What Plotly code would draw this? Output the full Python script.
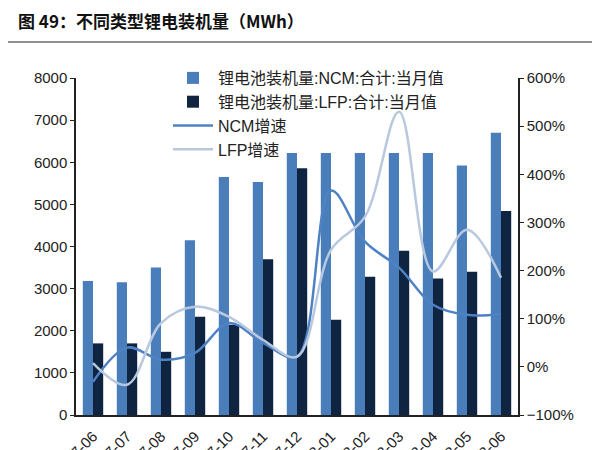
import plotly.graph_objects as go

categories = ["2017-06", "2017-07", "2017-08", "2017-09", "2017-10", "2017-11", "2017-12",
              "2018-01", "2018-02", "2018-03", "2018-04", "2018-05", "2018-06"]
ncm = [3180, 3150, 3500, 4150, 5650, 5530, 6220, 6220, 6220, 6220, 6220, 5920, 6700]
lfp = [1700, 1700, 1500, 2330, 2140, 3700, 5860, 2260, 3280, 3900, 3240, 3400, 4840]
ncm_growth = [-31, 40, 15, 29, 91, 50, 21, 366, 260, 206, 129, 108, 110]
lfp_growth = [8, -37, 91, 125, 104, 56, 21, 243, 312, 530, 198, 285, 185]

# page has an 8px body margin, so the figure is drawn offset by 8px
OFF = 8
W, H = 592, 442
L, T = 76 - OFF, 78 - OFF
R = W - (518 - OFF)
B = H - (415 - OFF)
pw, ph = W - L - R, H - T - B

font = "Liberation Sans, Arial, Noto Sans CJK SC"

def px_x(x):
    return (x - OFF - L) / pw

def px_y(y):
    return (H - B - (y - OFF)) / ph

fig = go.Figure()
fig.add_trace(go.Bar(x=categories, y=ncm, name="锂电池装机量:NCM:合计:当月值",
                     marker=dict(color="#4a7ebb", line=dict(width=0))))
fig.add_trace(go.Bar(x=categories, y=lfp, name="锂电池装机量:LFP:合计:当月值",
                     marker=dict(color="#0f2440", line=dict(width=0))))
fig.add_trace(go.Scatter(x=categories, y=[v / 100 for v in ncm_growth], name="NCM增速",
                         yaxis="y2", mode="lines",
                         line=dict(color="#4f82c4", width=2.5, shape="spline", smoothing=1.0)))
fig.add_trace(go.Scatter(x=categories, y=[v / 100 for v in lfp_growth], name="LFP增速",
                         yaxis="y2", mode="lines",
                         line=dict(color="#b8c9df", width=2.5, shape="spline", smoothing=1.0)))

fig.update_layout(
    width=W, height=H,
    margin=dict(l=L, r=R, t=T, b=B, autoexpand=False),
    paper_bgcolor="white", plot_bgcolor="white",
    barmode="group", bargap=0.4, bargroupgap=0.0,
    font=dict(family=font, size=15, color="#222"),
    showlegend=True,
    legend=dict(x=px_x(168), y=px_y(61), xanchor="left", yanchor="top",
                bgcolor="rgba(0,0,0,0)", font=dict(size=16, family=font),
                tracegroupgap=0, itemwidth=40, traceorder="normal"),
    xaxis=dict(type="category", showline=True, linecolor="#222", linewidth=1.5,
               ticks="", tickangle=-45, showgrid=False, ticklabelstandoff=5,
               tickfont=dict(size=15, family=font)),
    yaxis=dict(range=[0, 8000], dtick=1000, showline=True, linecolor="#222", linewidth=1.5,
               ticks="outside", ticklen=4, tickcolor="#222", showgrid=False, zeroline=False,
               tickfont=dict(size=15, family=font)),
    yaxis2=dict(range=[-1, 6], dtick=1, overlaying="y", side="right", tickformat=".0%",
                showline=True, linecolor="#222", linewidth=1.5, ticks="outside", ticklen=4,
                tickcolor="#222", showgrid=False, zeroline=False,
                tickfont=dict(size=15, family=font)),
)

fig.add_annotation(text="<b>图 49：不同类型锂电装机量（MWh）</b>", xref="paper", yref="paper",
                   x=px_x(16), y=px_y(20), xanchor="left", yanchor="middle",
                   showarrow=False, font=dict(size=17, family="Noto Sans CJK SC", color="#111"))
fig.add_shape(type="line", xref="paper", yref="paper",
              x0=px_x(2), x1=px_x(600),
              y0=px_y(42), y1=px_y(42),
              line=dict(color="#222", width=1.2))

fig.write_html("out.html")
